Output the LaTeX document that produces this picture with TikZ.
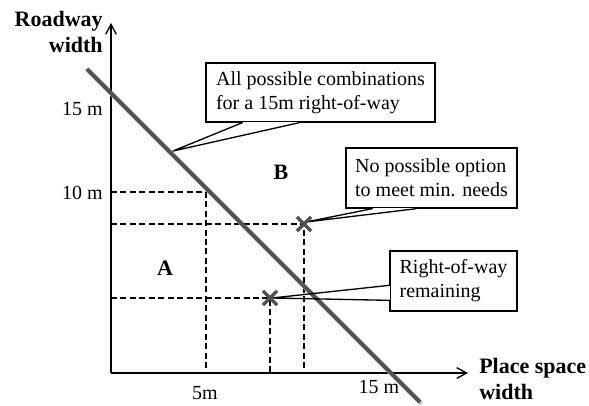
\documentclass[tikz,border=0pt]{standalone}
\usepackage{fontspec}
\setmainfont{Liberation Serif}
\usetikzlibrary{positioning, arrows.meta, calc, shapes.misc}
\tikzset{
  axisline/.style={
    line width=1pt,
    -{Straight Barb[length=2.6mm, width=2.8mm]}
  },
  guideline/.style={
    line width=0.9pt,
    dash pattern=on 4.5pt off 2.6pt
  },
  budgetline/.style={
    line width=3.1pt,
    draw=black!68
  },
  budgetshadow/.style={
    line width=3.1pt,
    draw=black!22
  },
  notebox/.style={
    rectangle,
    draw,
    fill=white,
    line width=1pt,
    align=left,
    font=\fontsize{15}{18}\selectfont,
    inner sep=0pt
  },
  notepointer/.style={
    line width=1pt,
    line join=round
  },
  ticklabel/.style={
    font=\fontsize{15}{18}\selectfont,
    inner sep=1pt
  },
  axistitle/.style={
    font=\fontsize{16.5}{20}\selectfont\bfseries,
    inner sep=0pt
  },
  regionlabel/.style={
    font=\fontsize{16.5}{20}\selectfont\bfseries
  },
  optionmark/.style={
    cross out,
    draw=black!68,
    line width=2.6pt,
    minimum size=8pt,
    inner sep=0pt
  }
}
\begin{document}
\begin{tikzpicture}[x=0.75pt, y=-0.75pt]
  \useasboundingbox (0,0) rectangle (589,406);

  % axes
  \coordinate (origin) at (111,373);
  \coordinate (ytop) at (111,23);
  \coordinate (xend) at (468,373);
  \draw[axisline] (origin) -- (ytop);
  \draw[axisline] (origin) -- (xend);

  \node[axistitle, align=right, anchor=east] (ytitle) at (103,32) {Roadway\\width};
  \node[axistitle, align=left, anchor=west] (xtitle) at (479,379) {Place space\\width};

  \coordinate (y15) at (111,109);
  \coordinate (y10) at (111,193);
  \node[ticklabel, left=5pt of y15] (y15label) {15 m};
  \node[ticklabel, left=5pt of y10] (y10label) {10 m};
  \node[ticklabel] (x5label) at (205,393) {5m};
  \node[ticklabel] (x15label) at (379,387) {15 m};

  % guide lines to the options
  \coordinate (minneed) at (206,192);
  \coordinate (nooption) at (304,224);
  \coordinate (leftover) at (270,298);
  \draw[guideline] (origin |- minneed) -- (minneed) -- (origin -| minneed);
  \draw[guideline] (origin |- nooption) -- (nooption) -- (origin -| nooption);
  \draw[guideline] (origin |- leftover) -- (leftover) -- (origin -| leftover);

  \node[regionlabel] (regiona) at (165,268) {A};
  \node[regionlabel] (regionb) at (281,172) {B};

  % 15 m right-of-way
  \coordinate (rowstart) at (87,69);
  \coordinate (rowend) at (420,402);
  \draw[budgetshadow] ($(rowstart)+(1.5,2)$) -- ($(rowend)+(1.5,2)$);
  \draw[budgetline] (rowstart) -- (rowend);

  % callouts
  \node[notebox, minimum width=171.75pt, minimum height=44.25pt] (allbox) at (320.5,92.5)
    {All possible combinations\\for a 15m right-of-way};
  \node[notebox, minimum width=128.25pt, minimum height=45pt] (nobox) at (431.5,178)
    {No possible option\\to meet min. needs};
  \node[notebox, minimum width=95.25pt, minimum height=45pt] (restbox) at (453.5,281)
    {Right-of-way\\remaining};

  \coordinate (allbase1) at ($(allbox.south west)+(37,0)$);
  \coordinate (allbase2) at ($(allbox.south west)+(94,0)$);
  \coordinate (alltip) at (173,151);
  \fill[white] ($(allbase1)+(0.8,-1)$) rectangle ($(allbase2)+(-0.8,1)$);
  \draw[notepointer] (allbase1) -- (alltip) -- (allbase2);

  \coordinate (nobase1) at ($(nobox.south west)+(27,0)$);
  \coordinate (nobase2) at ($(nobox.south west)+(71,0)$);
  \fill[white] ($(nobase1)+(0.8,-1)$) rectangle ($(nobase2)+(-0.8,1)$);
  \draw[notepointer] (nobase1) -- ($(nooption)+(2,-2)$) -- (nobase2);

  \coordinate (restbase1) at ($(restbox.north west)+(0,35)$);
  \coordinate (restbase2) at ($(restbox.north west)+(0,50)$);
  \fill[white] ($(restbase1)+(-1,0.8)$) rectangle ($(restbase2)+(1,-0.8)$);
  \draw[notepointer] (restbase1) -- ($(leftover)+(2,0)$) -- (restbase2);

  % option marks
  \node[optionmark] (nomark) at (nooption) {};
  \node[optionmark] (restmark) at (leftover) {};
\end{tikzpicture}
\end{document}
